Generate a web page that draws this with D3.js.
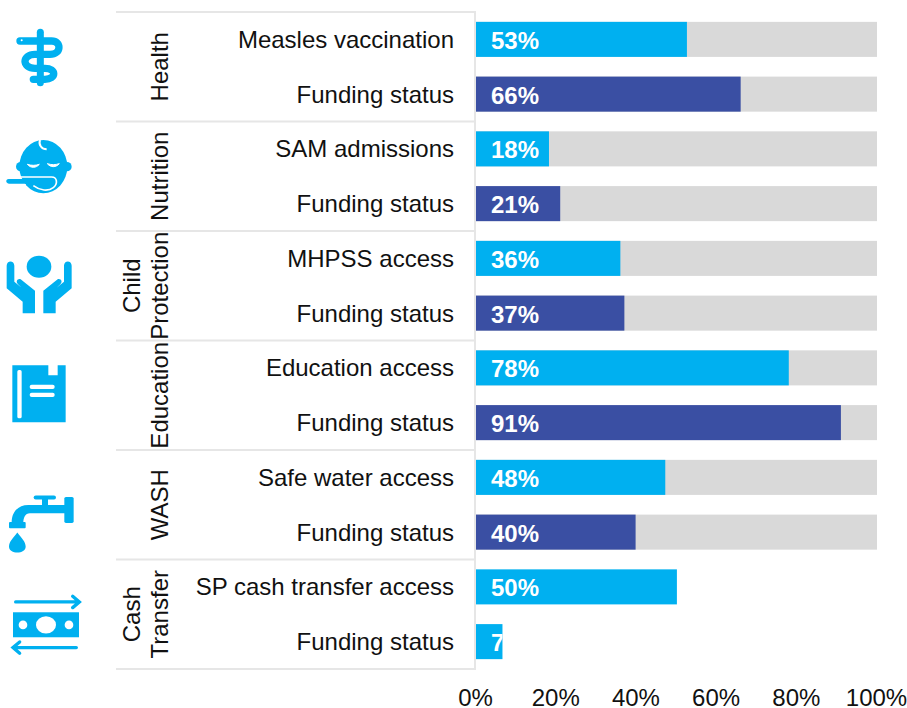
<!DOCTYPE html>
<html><head><meta charset="utf-8">
<script src="https://cdn.jsdelivr.net/npm/d3@7/dist/d3.min.js"></script>
<style>html,body{margin:0;padding:0;background:#fff;overflow:hidden}svg{display:block}text{font-family:"Liberation Sans",Arial,sans-serif}</style>
</head><body>
<svg id="c" width="907" height="708"></svg>
<script>
const rowLabels=["Measles vaccination","Funding status","SAM admissions","Funding status","MHPSS access","Funding status","Education access","Funding status","Safe water access","Funding status","SP cash transfer access","Funding status"];
const valueLabels=[53,66,18,21,36,37,78,91,48,40,50,7];
const rowValues=[52.6,66,18.2,21,36,37,78,91,47.2,39.8,50.1,6.6];
const rowKinds=["access","funding","access","funding","access","funding","access","funding","access","funding","access","access"];
const rowBacked=[1,1,1,1,1,1,1,1,1,1,0,0];
const sectors=[["Health"],["Nutrition"],["Child","Protection"],["Education"],["WASH"],["Cash","Transfer"]];
const ticks=[0,20,40,60,80,100];
const colors={access:"#00B0F0",funding:"#3A4FA3",back:"#D9D9D9",rule:"#E6E6E6",ink:"#111"};

const svg=d3.select("#c");
const x=d3.scaleLinear().domain([0,100]).range([476,877]);
const y=d3.scaleBand().domain(d3.range(12)).range([12,669]).paddingInner(0.36).paddingOuter(0.18);
const g=d3.scaleBand().domain(d3.range(6)).range([12,669]);

// rules
svg.append("g").selectAll("line").data(d3.range(7)).join("line")
 .attr("x1",116).attr("x2",475)
 .attr("y1",i=>12+i*g.step()).attr("y2",i=>12+i*g.step())
 .attr("stroke",colors.rule).attr("stroke-width",2);
svg.append("line").attr("x1",475).attr("x2",475).attr("y1",11).attr("y2",670).attr("stroke",colors.rule).attr("stroke-width",2);

// background bars
svg.append("g").selectAll("rect").data(d3.range(12).filter(i=>rowBacked[i])).join("rect")
 .attr("x",x(0)).attr("width",x(100)-x(0)).attr("y",i=>y(i)).attr("height",y.bandwidth()).attr("fill",colors.back);

// value bars + clipped labels
const defs=svg.append("defs");
rowValues.forEach((v,i)=>{
 defs.append("clipPath").attr("id","cp"+i).append("rect").attr("x",x(0)).attr("y",y(i)).attr("width",x(v)-x(0)).attr("height",y.bandwidth());
 svg.append("rect").attr("x",x(0)).attr("y",y(i)).attr("width",x(v)-x(0)).attr("height",y.bandwidth()).attr("fill",colors[rowKinds[i]]);
 svg.append("g").attr("clip-path",`url(#cp${i})`).append("text")
  .attr("x",x(0)+15).attr("y",y(i)+y.bandwidth()/2+9.5).attr("fill","#fff").attr("font-size",24).attr("font-weight","bold").text(valueLabels[i]+"%");
 svg.append("text").attr("x",454).attr("y",y(i)+y.bandwidth()/2+8.5).attr("text-anchor","end").attr("font-size",24).attr("fill",colors.ink).text(rowLabels[i]);
});

// sector labels
sectors.forEach((lines,i)=>{
 const cy=g(i)+g.bandwidth()/2;
 lines.forEach((t,j)=>{
  const bx=lines.length===1?168:(j===0?140:168);
  svg.append("text").attr("transform",`translate(${bx},${cy}) rotate(-90)`).attr("text-anchor","middle").attr("font-size",24).attr("fill",colors.ink).text(t);
 });
});

// axis
const axis=svg.append("g").call(d3.axisBottom(x).tickValues(ticks).tickFormat(d=>d+"%").tickSize(0));
axis.select(".domain").remove();
axis.selectAll("text").attr("font-size",24).attr("font-family",'"Liberation Sans",Arial,sans-serif').attr("fill",colors.ink).attr("y",0).attr("dy",0).attr("transform","translate(-1,706)");

// icons, drawn in 3x coordinates
const ic=svg.append("g").attr("transform","scale(0.3333)").attr("fill",colors.access);
// staff & snake
ic.append("path").attr("d","M121 97V248").attr("stroke",colors.access).attr("stroke-width",21).attr("stroke-linecap","round").attr("fill","none");
ic.append("path").attr("d","M60 123H155C185 123 185 163 150 163H105C65 163 65 205 105 205H135C170 205 170 238 135 238H100").attr("stroke",colors.access).attr("stroke-width",22).attr("stroke-linecap","round").attr("fill","none");
ic.append("circle").attr("cx",65).attr("cy",121).attr("r",3).attr("fill","#fff");
// baby
ic.append("ellipse").attr("cx",130).attr("cy",500).attr("rx",72).attr("ry",80);
ic.append("circle").attr("cx",62).attr("cy",500).attr("r",14);
ic.append("circle").attr("cx",201).attr("cy",500).attr("r",14);
ic.append("path").attr("d","M120 420C115 435 125 448 140 448").attr("stroke","#fff").attr("stroke-width",6).attr("fill","none");
ic.append("path").attr("d","M82 493C92 505 108 505 118 493C106 497 94 497 82 493ZM142 491C152 503 168 503 178 491C166 495 154 495 142 491Z").attr("stroke","#fff").attr("stroke-width",3).attr("fill","#fff");
ic.append("path").attr("d","M52 531H155C172 531 174 552 160 563C145 575 120 572 100 557").attr("stroke","#fff").attr("stroke-width",5).attr("fill","none");
ic.append("path").attr("d","M26 537H150C165 537 165 550 150 551H28C16 550 16 538 26 537Z");
ic.append("path").attr("d","M20 553H78V560H20Z").attr("fill","#fff");
// hands
ic.append("ellipse").attr("cx",117).attr("cy",800).attr("rx",37).attr("ry",33);
const hand="M20 797C20 780 43 780 43 797V845L65 863L54 853C46 845 52 835 62 838L105 872V940H68V905L20 865Z";
ic.append("path").attr("d",hand);
ic.append("path").attr("d",hand).attr("transform","translate(235,0) scale(-1,1)");
// book
const low=ic.append("g").attr("transform","translate(0,1050)");
low.append("path").attr("d","M37 46H145V76H173V46H197V217H37Z");
low.append("rect").attr("x",52).attr("y",60).attr("width",13).attr("height",145).attr("rx",5).attr("fill","#fff");
low.append("rect").attr("x",89).attr("y",104).attr("width",75).attr("height",13).attr("rx",6).attr("fill","#fff");
low.append("rect").attr("x",89).attr("y",128).attr("width",75).attr("height",13).attr("rx",6).attr("fill","#fff");
// tap
low.append("rect").attr("x",101).attr("y",437).attr("width",67).attr("height",12).attr("rx",6);
low.append("rect").attr("x",126).attr("y",445).attr("width",18).attr("height",25);
low.append("rect").attr("x",193).attr("y",441).attr("width",28).attr("height",78).attr("rx",5);
low.append("path").attr("d","M195 465H85C55 465 35 485 35 518H70C70 505 75 490 90 490H195Z");
low.append("rect").attr("x",27).attr("y",516).attr("width",50).attr("height",19).attr("rx",3);
low.append("path").attr("d","M52 548C40 565 27 575 27 590C27 614 77 614 77 590C77 575 64 565 52 548Z");
// cash
low.append("rect").attr("x",39).attr("y",787).attr("width",198).attr("height",75);
low.append("ellipse").attr("cx",138).attr("cy",825).attr("rx",30).attr("ry",26).attr("fill","#fff");
low.append("circle").attr("cx",69).attr("cy",825).attr("r",13).attr("fill","#fff");
low.append("circle").attr("cx",207).attr("cy",825).attr("r",13).attr("fill","#fff");
const arrows=low.append("g").attr("fill","none").attr("stroke",colors.access).attr("stroke-width",10).attr("stroke-linecap","round");
arrows.append("path").attr("d","M47 756H235M218 739L238 756L218 773");
arrows.append("path").attr("d","M229 893H42M59 876L39 893L59 910");
</script>
</body></html>
